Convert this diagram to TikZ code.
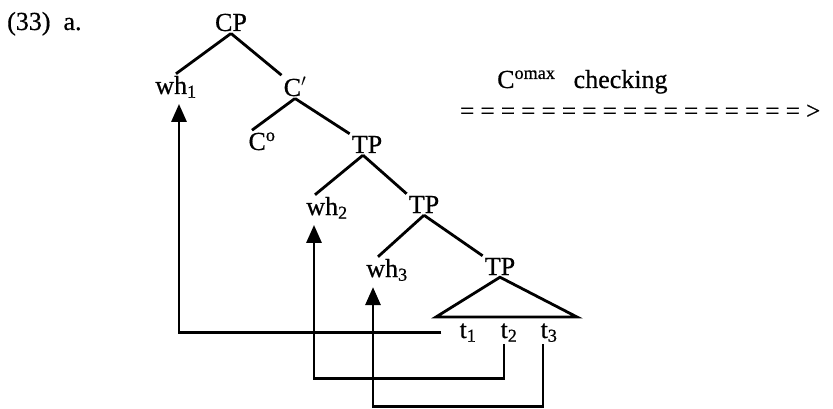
\documentclass[tikz,border=0pt]{standalone}
\usepackage{fontspec}
\setmainfont{Liberation Serif}[UprightFeatures={FakeBold=0.6}]
\usetikzlibrary{arrows.meta}
\tikzset{
  >={Triangle[length=18pt,width=15pt]},
  font=\fontsize{26}{30}\selectfont,
  cat/.style={inner sep=2pt,anchor=base},
  lbl/.style={inner sep=0pt,anchor=base west},
  branch/.style={line width=2.8pt},
  move/.style={->,line width=2.9pt,shorten >=4pt},
}
\begin{document}
\begin{tikzpicture}[x=1pt,y=-1pt]
  \useasboundingbox (0,0) rectangle (833,409);

  \node[lbl] (exno) at (7,30) {(33)\enspace a.};

  % the tree
  \node[cat] (cp) at (231,31) {CP};
  \node[cat] (wh1) at (176,94) {wh\textsubscript{1}};
  \node[cat] (cbar) at (295,96) {C$'$};
  \node[cat] (c0) at (262,150) {C\textsuperscript{o}};
  \node[cat] (tp1) at (367,153) {TP};
  \node[cat] (wh2) at (327,215) {wh\textsubscript{2}};
  \node[cat] (tp2) at (424,213) {TP};
  \node[cat] (wh3) at (387,277) {wh\textsubscript{3}};
  \node[cat] (tp3) at (500,275) {TP};
  \node[cat] (t1) at (468,338) {t\textsubscript{1}};
  \node[cat] (t2) at (509,338) {t\textsubscript{2}};
  \node[cat] (t3) at (549,338) {t\textsubscript{3}};
  \coordinate (tril) at (436,317);
  \coordinate (trir) at (577,317);

  \draw[branch] (cp.south) -- (wh1.north);
  \draw[branch] (cp.south) -- (cbar.north west);
  \draw[branch] (cbar.south) -- ([xshift=-10pt]c0.north);
  \draw[branch] (cbar.south) -- (tp1.north west);
  \draw[branch] ([xshift=-4pt]tp1.south) -- ([xshift=-12pt]wh2.north);
  \draw[branch] ([xshift=-4pt]tp1.south) -- (tp2.north west);
  \draw[branch] (tp2.south) -- ([xshift=-9pt]wh3.north);
  \draw[branch] (tp2.south) -- (tp3.north west);
  \draw[branch,line join=miter] (tp3.south) -- (tril) -- (trir) -- cycle;

  % movement of the wh-phrases
  \draw[move,shorten <=16pt] (t1.west) -| ([xshift=3pt]wh1.south);
  \draw[move] ([xshift=-5pt]t2.south) -- ++(0,35) -| ([xshift=-13pt]wh2.south);
  \draw[move] ([xshift=-6pt]t3.south) -- ++(0,62) -| ([xshift=-14pt]wh3.south);

  \node[lbl] (check) at (497,88) {C\textsuperscript{omax}\hspace{0.7em}checking};
  \node[lbl,font=\fontsize{25}{30}\selectfont] (checkarrow) at (460,119)
    {= = = = = = = = = = = = = = = = = >};
\end{tikzpicture}
\end{document}
